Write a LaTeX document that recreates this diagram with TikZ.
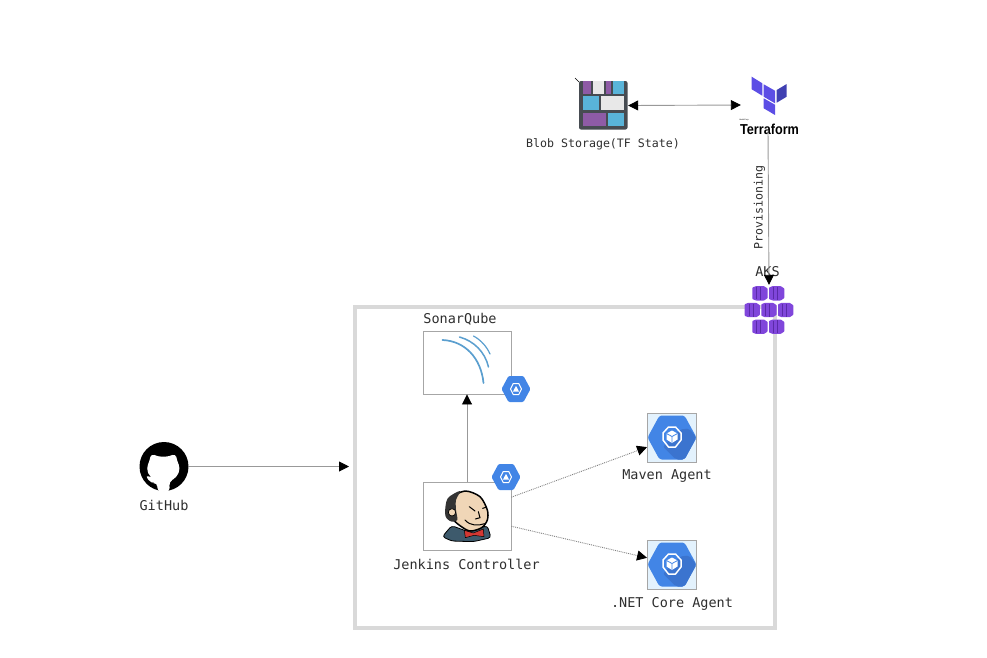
\documentclass[tikz,border=0pt]{standalone}
\usepackage{fontspec}
\usepackage{graphicx}
\setmainfont{Liberation Sans}
\newfontfamily\labelfont{DejaVu Sans Mono}
\usetikzlibrary{arrows.meta}
\definecolor{framegray}{HTML}{D9D9D9}
\definecolor{linegray}{HTML}{999999}
\definecolor{boxgray}{HTML}{A6A6A6}
\definecolor{textgray}{HTML}{2E2E2E}
\definecolor{kubeblue}{HTML}{4285E6}
\definecolor{kubedark}{HTML}{3B74CF}
\definecolor{agentbg}{HTML}{E3F2FD}
\definecolor{sonarblue}{HTML}{5B9FCF}
\definecolor{aksviolet}{HTML}{8046DB}
\definecolor{aksdark}{HTML}{5A2AA8}
\definecolor{tfviolet}{HTML}{5C4EE5}
\definecolor{tfdark}{HTML}{4040B2}
\definecolor{brickblue}{HTML}{59B4D9}
\definecolor{brickviolet}{HTML}{8E5BA6}
\definecolor{brickwhite}{HTML}{E8E8E8}
\definecolor{blobgray}{HTML}{474C52}
\definecolor{jenkskin}{HTML}{F0D6B7}
\definecolor{jenksuit}{HTML}{3D5A6C}
\definecolor{jenkred}{HTML}{D33833}
\tikzset{
  boxnode/.style={draw=boxgray,line width=0.9pt,inner sep=0pt},
  iconnode/.style={inner sep=0pt},
  labeltext/.style={font=\labelfont\fontsize{13.5}{15}\selectfont,text=textgray,inner sep=0pt},
  smalltext/.style={font=\labelfont\fontsize{11.6}{13}\selectfont,text=textgray,inner sep=0pt},
  link/.style={draw=linegray,line width=0.9pt,-{Triangle[black,length=10pt,width=10pt]}},
  dotlink/.style={link,draw=gray,densely dotted},
  pics/kubehex/.style={code={
    \fill[kubeblue,rounded corners=1.2pt] (-14.5,0) -- (-7.5,-13) -- (7.5,-13) -- (14.5,0) -- (7.5,13) -- (-7.5,13) -- cycle;
    \draw[white,line width=1pt,line join=round] (-5.5,0) -- (-2.8,-5.5) -- (2.8,-5.5) -- (5.5,0) -- (2.8,5.5) -- (-2.8,5.5) -- cycle;
    \fill[white] (0,-3.2) -- (3,2.6) -- (-3,2.6) -- cycle;
  }},
  pics/agenthex/.style={code={
    \fill[kubeblue,rounded corners=2.5pt] (-24.5,0) -- (-12.5,-22) -- (12.5,-22) -- (24.5,0) -- (12.5,22) -- (-12.5,22) -- cycle;
    \fill[kubedark,rounded corners=2pt] (8,-8) -- (17,-9) -- (24.5,0) -- (12.5,22) -- (4,22) -- (-9,9) -- cycle;
    \draw[white,line width=1.5pt,line join=round] (-9,-4.5) -- (-3.5,-10.5) -- (3.5,-10.5) -- (9,-4.5) -- (9,2.5) -- (3.5,9.5) -- (-3.5,9.5) -- (-9,2.5) -- cycle;
    \fill[white] (0,-7) -- (5.5,-4) -- (5.5,2) -- (0,5.5) -- (-5.5,2) -- (-5.5,-4) -- cycle;
    \draw[kubeblue,line width=0.8pt,line join=round] (-5.5,-4) -- (0,-1) -- (5.5,-4) (0,-1) -- (0,5.5);
  }},
  pics/akscube/.style={code={
    \fill[aksviolet,rounded corners=0.5pt] (-7.6,-5.8) -- (-4,-7.2) -- (4,-7.2) -- (7.6,-4.8) -- (7.6,4.8) -- (4,7.2) -- (-4,7.2) -- (-7.6,5.8) -- cycle;
    \draw[aksdark,line width=0.7pt] (-3.3,-6) -- (-3.3,6) (0.8,-6.5) -- (0.8,6.5);
  }}
}
\begin{document}
\begin{tikzpicture}[x=1pt,y=-1pt]
  \useasboundingbox (0,0) rectangle (987,657);
  % cluster frame
  \draw[framegray,line width=4pt] (354.5,306.5) rectangle (775,628);

  % blob storage
  \node[iconnode,minimum width=49pt,minimum height=49pt] (blob) at (603.5,105.5) {};
  \draw[black,line width=0.5pt] (575,78) -- (579,82);
  \fill[blobgray,rounded corners=2pt] (579,81) -- (627.5,81) -- (627.5,129.5) -- (579,129.5) -- cycle;
  \fill[brickviolet] (582.5,81) rectangle (591,94);
  \fill[brickwhite] (592.5,81) rectangle (604,94);
  \fill[brickviolet] (606,81) rectangle (610.5,94);
  \fill[brickblue] (612.5,81) rectangle (624,94);
  \fill[brickblue] (582.5,96) rectangle (598.5,110);
  \fill[brickwhite] (601,96) rectangle (624,110);
  \fill[brickviolet] (582.5,112.5) rectangle (605.5,126);
  \fill[brickblue] (608,112.5) rectangle (624,126);
  \node[smalltext] (blobtext) at (603,144) {Blob Storage(TF State)};

  % terraform
  \node[iconnode,minimum width=54pt,minimum height=50pt] (terra) at (768,105) {};
  \fill[tfviolet] (751.7,76.7) -- (762.3,83.3) -- (762.3,95.7) -- (751.7,89.3) -- cycle;
  \fill[tfviolet] (763.7,84.3) -- (775,90.7) -- (775,103.3) -- (763.7,96.7) -- cycle;
  \fill[tfdark] (776.7,90) -- (786.7,84) -- (786.7,96.7) -- (776.7,102.7) -- cycle;
  \fill[tfviolet] (763.7,98.3) -- (775,104.7) -- (775,115) -- (763.7,108.3) -- cycle;
  \node[font=\bfseries\fontsize{14.4}{16}\selectfont,inner sep=0pt] (terratext) at (769.5,129.5) {\scalebox{0.88}[1]{Terraform}};
  \node[font=\fontsize{2}{2}\selectfont,inner sep=0pt] (hashitext) at (744,120.3) {HashiCorp};

  % aks
  \node[iconnode,minimum width=50pt,minimum height=50pt] (aks) at (769,310) {};
  \foreach \cx/\cy in {760/293.3,776.7/293.3,752.3/310,769/310,785.7/310,760/326.7,776.7/326.7}
    \pic at (\cx,\cy) {akscube};
  \node[labeltext] (akstext) at (767.5,271.5) {AKS};

  % sonarqube
  \node[boxnode,minimum width=88pt,minimum height=63pt] (sonar) at (467,362.5) {};
  \begin{scope}[sonarblue,line cap=round]
    \draw[line width=1.7pt] (442.5,340) .. controls (465,341) and (481,358) .. (483.5,383);
    \draw[line width=1.5pt] (459.5,337) .. controls (474,341) and (485,352) .. (488.5,367);
    \draw[line width=1.2pt] (473.5,336) .. controls (481,340) and (487,347) .. (490,354);
  \end{scope}
  \pic at (516,389) {kubehex};
  \node[labeltext] (sonartext) at (460,319.5) {SonarQube};

  % jenkins
  \node[boxnode,minimum width=88pt,minimum height=68pt] (jenkins) at (467,516) {};
  \begin{scope}[shift={(410,455)},scale=1/3]
    \fill[jenksuit,draw=black,line width=0.8pt,rounded corners=3pt] (97,245) -- (125,212) -- (175,230) -- (232,212) -- (243,248) -- (190,260) -- (125,258) -- cycle;
    \fill[jenkskin,draw=black,line width=1.5pt] plot[smooth cycle] coordinates {(113,165) (122,130) (165,108) (210,125) (232,165) (232,195) (215,218) (180,228) (150,212) (128,192)};
    \fill[black!80] plot[smooth cycle] coordinates {(105,172) (113,130) (150,108) (138,135) (138,165) (142,195) (125,200) (110,190)};
    \fill[jenkskin,draw=black,line width=0.7pt] (126,172) circle[radius=11];
    \draw[black,line width=1pt,line cap=round] (178,155) -- (195,168) (218,160) -- (230,156) (205,170) -- (210,188) -- (196,192) (165,195) .. controls (182,214) and (205,212) .. (224,206);
    \fill[jenkred,draw=black,line width=0.5pt] (163,226) -- (190,234) -- (220,222) -- (222,245) -- (192,241) -- (166,248) -- cycle;
  \end{scope}
  \pic at (506,477) {kubehex};
  \node[labeltext] (jenkinstext) at (466.5,564.5) {Jenkins Controller};

  % agents
  \node[boxnode,fill=agentbg,minimum width=49pt,minimum height=49pt] (maven) at (672,437.5) {};
  \pic at (672,437.5) {agenthex};
  \node[labeltext] (maventext) at (667,476.5) {Maven Agent};
  \node[boxnode,fill=agentbg,minimum width=49pt,minimum height=49pt] (dotnet) at (672,564.5) {};
  \pic at (672,564.5) {agenthex};
  \node[labeltext] (dotnettext) at (672,603.5) {.NET Core Agent};

  % github
  \node[iconnode,minimum width=49pt,minimum height=49pt] (github) at (164,466.5) {};
  \fill[black] (164,466.5) circle[radius=24.5];
  \begin{scope}[shift={(125,430)},scale=1/3]
    \fill[white,rounded corners=4pt] (78,70) -- (98,80) -- (132,80) -- (152,70) -- (156,92) -- (166,115) -- (155,142) -- (132,155) -- (135,185) -- (97,185) -- (97,158) -- (78,160) -- (60,135) -- (82,143) -- (92,148) -- (75,142) -- (64,115) -- (74,92) -- cycle;
  \end{scope}
  \node[labeltext] (githubtext) at (164,505.5) {GitHub};
  \coordinate (frameentry) at (349,466.5);

  % connectors
  \draw[link] (github.east) -- (frameentry);
  \draw[link] (jenkins.north) -- (sonar.south);
  \draw[dotlink] (jenkins.23) -- (maven.201);
  \draw[dotlink] (jenkins.-13) -- (dotnet.165);
  \draw[link,{Triangle[black,length=10pt,width=10pt]}-{Triangle[black,length=10pt,width=10pt]}] (blob.east) -- (terra.west);
  \draw[link] (terra.south) -- node[smalltext,rotate=90,pos=0.5,yshift=9pt] (provtext) {Provisioning} (aks.north);
\end{tikzpicture}
\end{document}
